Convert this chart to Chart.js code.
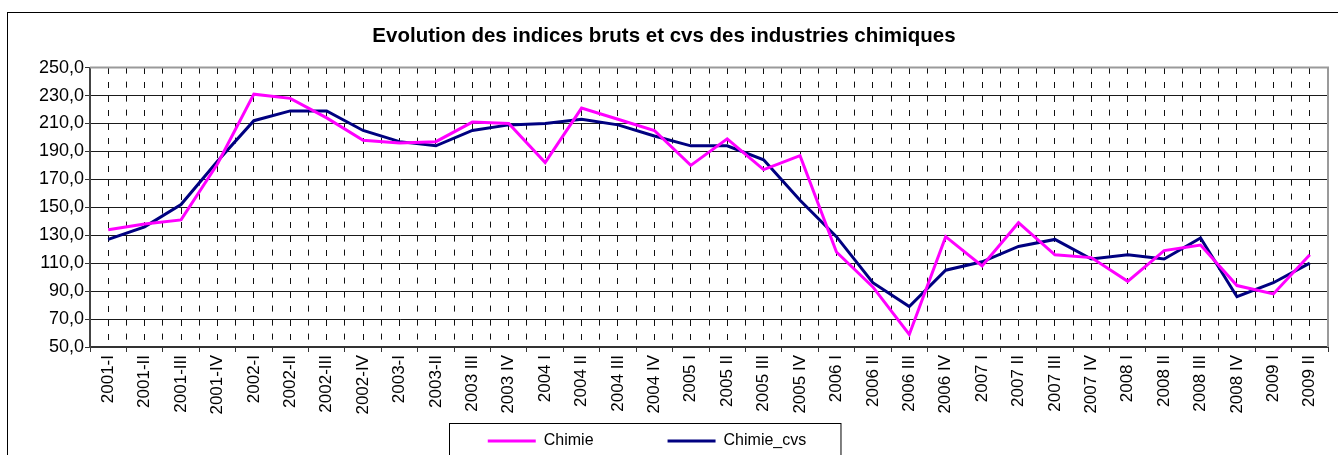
<!DOCTYPE html>
<html><head><meta charset="utf-8">
<script src="https://cdn.jsdelivr.net/npm/chart.js@4"></script>
<style>
html,body{margin:0;padding:0;background:#fff;overflow:hidden}
#wrap{position:relative;width:1338px;height:455px}
#frame{position:absolute;left:7px;top:12px;width:1400px;height:500px;border:1px solid #000;box-sizing:border-box}
canvas{position:absolute;left:0;top:0}
</style></head><body>
<div id="wrap"><div id="frame"></div><canvas id="c" width="1338" height="455"></canvas></div>
<script>
const categories = ['2001-I','2001-II','2001-III','2001-IV','2002-I','2002-II','2002-III','2002-IV','2003-I','2003-II','2003 III','2003 IV','2004 I','2004 II','2004 III','2004 IV','2005 I','2005 II','2005 III','2005 IV','2006 I','2006 II','2006 III','2006 IV','2007 I','2007 II','2007 III','2007 IV','2008 I','2008 II','2008 III','2008 IV','2009 I','2009 II'];
const chimie = [134,138,141,181,231,228,214,198,196,197,211,210,182,221,213,205,180,199,177,187,118,93,59,129,108,139,116,114,97,119,123,94,88,116];
const chimieCvs = [127,136,152,183,212,219,219,205,197,194,205,209,210,213,209,201,194,194,184,155,129,96,79,105,111,122,127,113,116,113,128,86,96,110];
const yMin = 50, yMax = 250, yStep = 20;
const titleText = 'Evolution des indices bruts et cvs des industries chimiques';

const FONT = "'Liberation Sans', Arial, sans-serif";

const decoPlugin = {
  id: 'deco',
  afterLayout(chart) {
    const lg = chart.legend;
    lg.left = 0; lg.right = 1294; lg.width = 1294;
    lg.top = 359; lg.bottom = 455; lg.height = 96;
  },
  beforeDatasetsDraw(chart) {
    const {ctx, chartArea: a} = chart;
    ctx.save();
    ctx.strokeStyle = '#9a9a9a';
    ctx.lineWidth = 2;
    ctx.beginPath();
    ctx.moveTo(a.left, a.top);
    ctx.lineTo(a.right, a.top);
    ctx.lineTo(a.right, a.bottom);
    ctx.stroke();
    ctx.restore();
  },
  afterDraw(chart) {
    const {ctx} = chart;
    const hb = chart.legend.legendHitBoxes;
    if (!hb || !hb.length) return;
    const last = hb[hb.length - 1];
    const l = hb[0].left - 39, r = last.left + last.width + 34;
    const t = hb[0].top + hb[0].height / 2 - 18;
    ctx.save();
    ctx.strokeStyle = '#000';
    ctx.lineWidth = 1;
    ctx.strokeRect(Math.round(l) + 0.5, Math.round(t) + 0.5, r - l, 100);
    ctx.restore();
  }
};

new Chart(document.getElementById('c'), {
  type: 'line',
  data: {
    labels: categories,
    datasets: [
      {label: 'Chimie', data: chimie, borderColor: '#FF00FF', backgroundColor: '#FF00FF', borderWidth: 3, pointRadius: 0, tension: 0, fill: false},
      {label: 'Chimie_cvs', data: chimieCvs, borderColor: '#000080', backgroundColor: '#000080', borderWidth: 3, pointRadius: 0, tension: 0, fill: false}
    ]
  },
  options: {
    responsive: false,
    animation: false,
    layout: {padding: {left: 0, right: 10, top: 0, bottom: 0}},
    plugins: {
      title: {display: true, text: titleText, color: '#000', font: {family: FONT, size: 20.5, weight: 'bold'}, padding: {top: 24, bottom: 19}},
      legend: {
        position: 'bottom', maxHeight: 40,
        labels: {usePointStyle: true, pointStyle: 'line', pointStyleWidth: 48, boxHeight: 16, padding: 74, color: '#000', font: {family: FONT, size: 16}}
      },
      tooltip: {enabled: false}
    },
    scales: {
      x: {
        type: 'category', position: 'bottom', offset: true,
        grid: {offset: true, color: '#111', lineWidth: 1, drawTicks: true, tickLength: 5, tickColor: '#333'},
        border: {display: true, color: '#333', width: 2, dash: [6, 8]},
        ticks: {autoSkip: false, minRotation: 90, maxRotation: 90, padding: 3, color: '#000', font: {family: FONT, size: 17}},
        afterFit(s) { s.height = 68; }
      },
      x2: {
        type: 'category', position: 'top', labels: categories, offset: true,
        grid: {offset: false, color: '#111', lineWidth: 1, drawTicks: false},
        border: {display: false, dash: [6, 8]},
        ticks: {display: false},
        afterFit(s) { s.height = 0; }
      },
      y: {
        min: yMin, max: yMax,
        grid: {color: '#1a1a1a', lineWidth: 1, drawTicks: true, tickLength: 5, tickColor: '#333'},
        border: {display: true, color: '#444', width: 2},
        ticks: {stepSize: yStep, padding: 1, color: '#000', font: {family: FONT, size: 18},
          callback: v => Number(v).toFixed(1).replace('.', ',')},
        afterFit(s) { s.width = 90; }
      }
    }
  },
  plugins: [decoPlugin]
});
</script>
</body></html>
